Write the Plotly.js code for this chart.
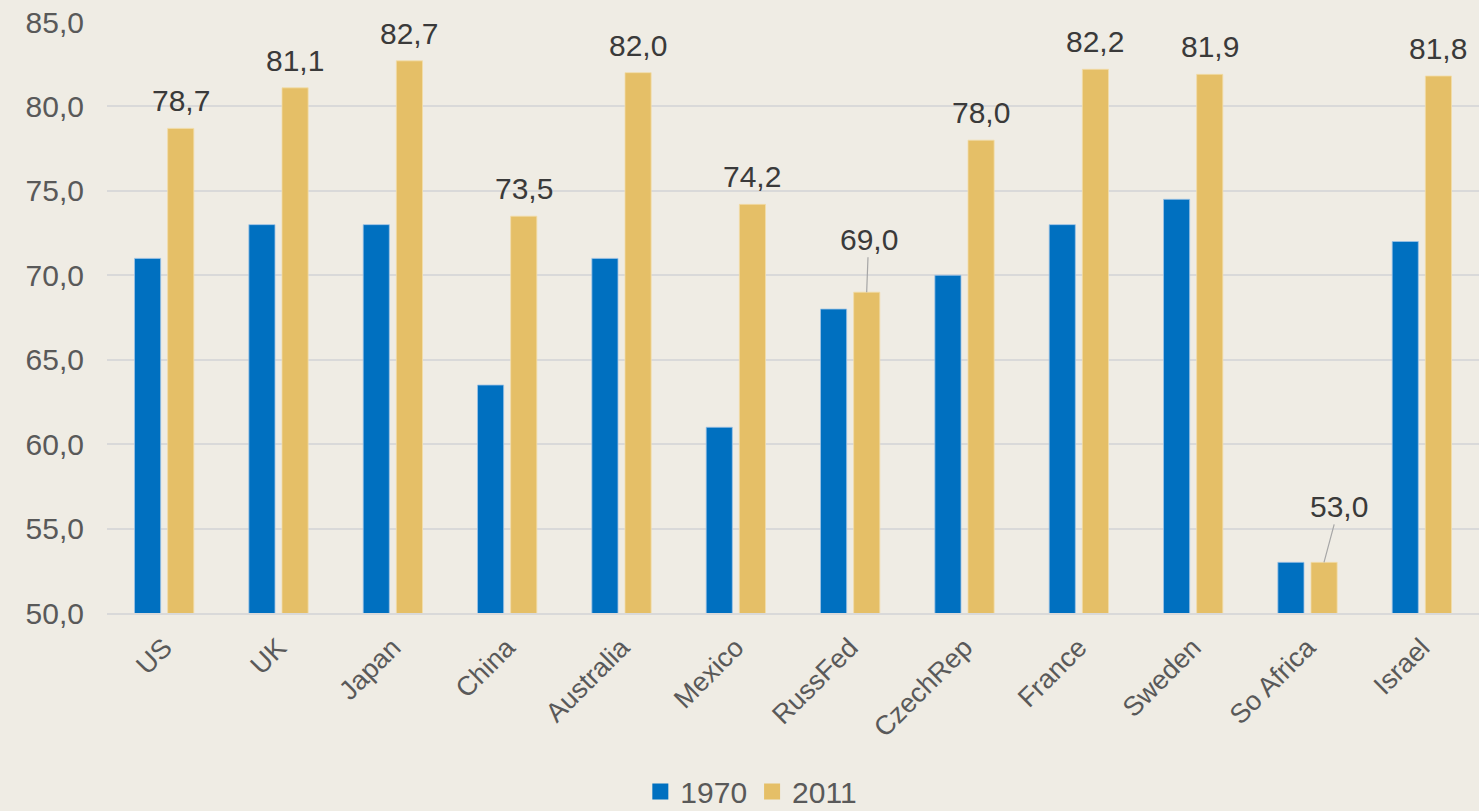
<!DOCTYPE html>
<html>
<head>
<meta charset="utf-8">
<script src="https://cdn.plot.ly/plotly-3.0.1.min.js"></script>
<style>html,body{margin:0;padding:0;background:#EFECE4;}#chart{width:1479px;height:811px;}</style>
</head>
<body>
<div id="chart"></div>
<script>
const categories = ["US","UK","Japan","China","Australia","Mexico","RussFed","CzechRep","France","Sweden","So Africa","Israel"];
const values1970 = [71,73,73,63.5,71,61,68,70,73,74.5,53,72];
const values2011 = [78.7,81.1,82.7,73.5,82.0,74.2,69.0,78.0,82.2,81.9,53.0,81.8];
const seriesNames = ["1970","2011"];
const seriesColors = ["#0070C0","#E5BF67"];
const yTicks = [50,55,60,65,70,75,80,85];

const fontFam = "Liberation Sans, Arial, sans-serif";
const fmt = v => v.toFixed(1).replace(".", ",");

const traces = [
  {type:"bar", name:seriesNames[0], x:categories, y:values1970, showlegend:false,
   marker:{color:seriesColors[0], line:{color:"#9DC3E6", width:0.8}}},
  {type:"bar", name:seriesNames[1], x:categories, y:values2011, showlegend:false,
   marker:{color:seriesColors[1], line:{color:"#F3DDA8", width:0.8}}},
  {type:"scatter", mode:"markers", name:seriesNames[0], x:[categories[0]], y:[null],
   marker:{symbol:"square", size:17, color:seriesColors[0]}},
  {type:"scatter", mode:"markers", name:seriesNames[1], x:[categories[0]], y:[null],
   marker:{symbol:"square", size:17, color:seriesColors[1]}}
];

const offsets = {"RussFed":[2,-53], "So Africa":[15,-56]};
const annotations = categories.map((c,i) => {
  const base = {x:c, y:values2011[i], xref:"x", yref:"y", text:fmt(values2011[i]),
    xshift:16.5, font:{family:fontFam, size:30, color:"#3A3A3A"}};
  if (offsets[c]) {
    return Object.assign(base, {showarrow:true, arrowhead:0, arrowwidth:1.2, arrowcolor:"#A6A6A6",
      ax:offsets[c][0], ay:offsets[c][1], standoff:0, startstandoff:0});
  }
  return Object.assign(base, {showarrow:false, yanchor:"bottom", yshift:9});
});

const layout = {
  width:1479, height:811,
  paper_bgcolor:"#EFECE4", plot_bgcolor:"#EFECE4",
  margin:{l:107, r:0, t:22, b:198, autoexpand:false},
  separators:", ",
  bargap:0.42, bargroupgap:0.212, barmode:"group",
  showlegend:true,
  legend:{orientation:"h", xref:"container", yref:"container", x:0.508, xanchor:"center",
    y:0.024, yanchor:"middle",
    font:{family:fontFam, size:30, color:"#595959"}, traceorder:"normal",
    itemsizing:"trace", itemwidth:30, tracegroupgap:0, bgcolor:"rgba(0,0,0,0)"},
  xaxis:{type:"category", tickangle:-45, tickfont:{family:fontFam, size:27, color:"#595959"},
    showgrid:false, showline:true, linecolor:"#D9D9D9", linewidth:2, ticks:"", automargin:false,
    ticklabelstandoff:6, range:[-0.5, categories.length-0.5]},
  yaxis:{range:[50,85], tickvals:yTicks, ticktext:yTicks.map(fmt),
    tickfont:{family:fontFam, size:30, color:"#595959"},
    gridcolor:"#D9D9D9", gridwidth:2, zeroline:false, showline:false, ticks:"",
    ticklabelstandoff:22, automargin:false},
  annotations:annotations
};

Plotly.newPlot("chart", traces, layout, {displayModeBar:false, staticPlot:true});
</script>
</body>
</html>
